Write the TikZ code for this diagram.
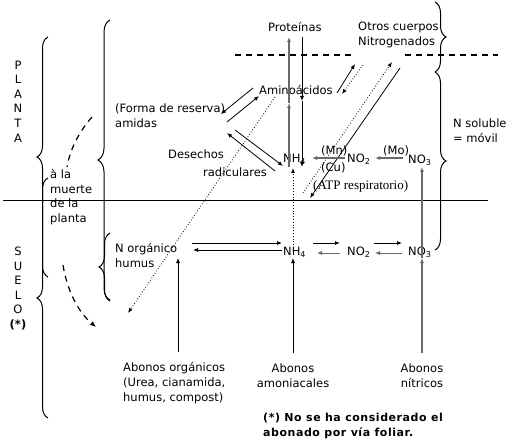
\documentclass[tikz,border=0pt]{standalone}
\usepackage{fontspec}
\setmainfont{DejaVu Sans}
\newfontfamily\serifATP{Liberation Serif}
\newfontfamily\notefont[LetterSpace=5]{DejaVu Sans}
\usetikzlibrary{arrows.meta,decorations.pathreplacing}
\definecolor{gr}{RGB}{105,105,105}
\begin{document}
\begin{tikzpicture}[x=1pt,y=-1pt,
  txt/.style={inner sep=0pt, anchor=west, align=left, font=\fontsize{11.5}{15}\selectfont},
  ctxt/.style={inner sep=0pt, align=center, font=\fontsize{11.5}{15}\selectfont},
  vtxt/.style={inner sep=0pt, align=center, font=\fontsize{11.5}{14.6}\selectfont},
  arr/.style={-{Latex[length=5pt,width=4pt]}, line width=0.8pt},
  garr/.style={arr, draw=gr, line width=1.6pt},
  tgarr/.style={arr, draw=gr, line width=0.8pt},
  dotarr/.style={arr, dotted, line width=0.8pt},
  brc/.style={decorate, decoration={brace, amplitude=#1}, line width=1pt},
  dsh/.style={dash pattern=on 6pt off 5pt, line width=1.2pt}]
\useasboundingbox (0,0) rectangle (518,446);
\fill[white] (0,0) rectangle (518,446);

% main lines
\coordinate (hl1) at (3,200); \coordinate (hl2) at (488,200);
\draw[line width=1pt] (hl1) -- (hl2);
\coordinate (dl1) at (235,55); \coordinate (dl2) at (355,55);
\coordinate (dl3) at (405,55); \coordinate (dl4) at (498,55);
\draw[dsh] (dl1) -- (dl2);
\draw[dsh] (dl3) -- (dl4);

% braces
\coordinate (b1a) at (48,277); \coordinate (b1b) at (48,37);
\draw[brc=11pt] (b1a) -- (b1b);
\coordinate (b2a) at (48,418); \coordinate (b2b) at (48,178);
\draw[brc=11pt] (b2a) -- (b2b);
\coordinate (b3a) at (110,300); \coordinate (b3b) at (110,20);
\draw[brc=12pt] (b3a) -- (b3b);
\coordinate (b4a) at (110,301); \coordinate (b4b) at (110,233);
\draw[brc=11pt] (b4a) -- (b4b);
\coordinate (b5a) at (435,2); \coordinate (b5b) at (435,72);
\draw[brc=11pt] (b5a) -- (b5b);
\coordinate (b6a) at (435,72); \coordinate (b6b) at (435,250);
\draw[brc=11pt] (b6a) -- (b6b);

% left labels
\node[vtxt] (planta) at (18,101.5) {P\\L\\A\\N\\T\\A};
\node[vtxt] (suelo) at (18,288.5) {S\\U\\E\\L\\O\\\textbf{(*)}};
\node[txt, font=\fontsize{11.5}{14.7}\selectfont] (muerte) at (50,197) {à la\\muerte\\de la\\planta};

% texts upper
\node[txt] (forma) at (115,115.5) {(Forma de reserva)\\amidas};
\node[txt] (desechos) at (168,154) {Desechos};
\node[txt] (radic) at (203,172) {radiculares};
\node[txt] (amino) at (259,90) {Aminoácidos};
\node[txt] (prot) at (268,27) {Proteínas};
\node[txt] (otros) at (358,35) {Otros cuerpos\\Nitrogenados};
\node[txt] (nsol) at (453,130.5) {N soluble\\= móvil};
\node[txt] (nh4u) at (283,159) {NH\textsubscript{4}};
\node[txt] (no2u) at (347,159) {NO\textsubscript{2}};
\node[txt] (no3u) at (408,160) {NO\textsubscript{3}};
\node[txt] (mn) at (321,151) {(Mn)};
\node[txt] (cu) at (321,168) {(Cu)};
\node[txt] (mo) at (383,151) {(Mo)};
\node[txt, font=\serifATP\fontsize{13}{15}\selectfont] (atp) at (313,186) {(ATP respiratorio)};

% texts lower
\node[txt] (norg) at (115,255) {N orgánico\\humus};
\node[txt] (nh4l) at (283,252) {NH\textsubscript{4}};
\node[txt] (no2l) at (347,252) {NO\textsubscript{2}};
\node[txt] (no3l) at (408,252) {NO\textsubscript{3}};
\node[txt] (aborg) at (123,383) {Abonos orgánicos\\(Urea, cianamida,\\humus, compost)};
\node[ctxt] (abam) at (293,375.5) {Abonos\\amoniacales};
\node[ctxt] (abnit) at (422,375.5) {Abonos\\nítricos};
\node[txt, font=\notefont\bfseries\fontsize{11}{15}\selectfont] (nota) at (263,425.5) {(*) No se ha considerado el\\abonado por vía foliar.};

% dashed curves
\coordinate (p1a) at (92,117); \coordinate (p1b) at (67,167);
\draw[dsh] (p1a) .. controls (78,133) and (70,150) .. (p1b);
\coordinate (p2a) at (63,265); \coordinate (p2b) at (96,327);
\draw[dsh, -{Latex[length=6pt,width=5pt]}] (p2a) .. controls (67,290) and (78,312) .. (p2b);

% verticals NH4 <-> Aminoacidos <-> Proteinas
\coordinate (g1) at (289,167); \coordinate (g2) at (289,103); \coordinate (g3) at (289,37);
\draw[garr] (g1) -- (g2);
\draw[garr] (g2) -- (g3);
\coordinate (k1) at (302,37); \coordinate (k2) at (302,101); \coordinate (k3) at (302,167);
\draw[arr] (k1) -- (k2);
\draw[arr] (k2) -- (k3);

% amidas
\coordinate (c1s) at (253,88); \coordinate (c1e) at (221,114);
\draw[arr] (c1s) -- (c1e);
\coordinate (c2s) at (227,122); \coordinate (c2e) at (259,96);
\draw[arr] (c2s) -- (c2e);

% desechos
\coordinate (d1s) at (275,171); \coordinate (d1e) at (227,133);
\draw[arr] (d1s) -- (d1e);
\coordinate (d2s) at (235,130); \coordinate (d2e) at (283,166);
\draw[arr] (d2s) -- (d2e);

% otros cuerpos
\coordinate (e1s) at (337,93); \coordinate (e1e) at (355,64);
\draw[arr] (e1s) -- (e1e);
\coordinate (e2s) at (363,65); \coordinate (e2e) at (342,94);
\draw[dotarr] (e2s) -- (e2e);
\coordinate (fs) at (303,193); \coordinate (fe) at (392,62);
\draw[dotarr] (fs) -- (fe);
\coordinate (gs) at (400,68); \coordinate (ge) at (310,198);
\draw[arr] (gs) -- (ge);

% long dotted to soil
\coordinate (hs) at (275,97); \coordinate (he) at (128,313);
\draw[dotarr] (hs) -- (he);
% dotted NH4 lower -> upper
\coordinate (is) at (293,245); \coordinate (ie) at (293,168);
\draw[dotarr] (is) -- (ie);

% Mn, Mo
\coordinate (js) at (345,158); \coordinate (je) at (312,158);
\draw[garr] (js) -- (je);
\coordinate (ks) at (403,158); \coordinate (ke) at (375,158);
\draw[garr] (ks) -- (ke);

% lower horizontals
\coordinate (l1s) at (192,243); \coordinate (l1e) at (282,243);
\draw[arr] (l1s) -- (l1e);
\coordinate (l2s) at (282,250); \coordinate (l2e) at (193,250);
\draw[arr] (l2s) -- (l2e);
\coordinate (m1s) at (313,243); \coordinate (m1e) at (340,243);
\draw[arr] (m1s) -- (m1e);
\coordinate (m2s) at (340,253); \coordinate (m2e) at (317,253);
\draw[tgarr] (m2s) -- (m2e);
\coordinate (n1s) at (374,243); \coordinate (n1e) at (402,243);
\draw[arr] (n1s) -- (n1e);
\coordinate (n2s) at (402,253); \coordinate (n2e) at (375,253);
\draw[tgarr] (n2s) -- (n2e);

% abonos verticals
\coordinate (o1s) at (178,352); \coordinate (o1e) at (178,258);
\draw[arr] (o1s) -- (o1e);
\coordinate (o2s) at (293,353); \coordinate (o2e) at (293,258);
\draw[arr] (o2s) -- (o2e);
\coordinate (o3s) at (422,353); \coordinate (o3m) at (422,258); \coordinate (o3e) at (422,167);
\draw[garr] (o3s) -- (o3m);
\draw[garr] (o3m) -- (o3e);
\end{tikzpicture}
\end{document}
